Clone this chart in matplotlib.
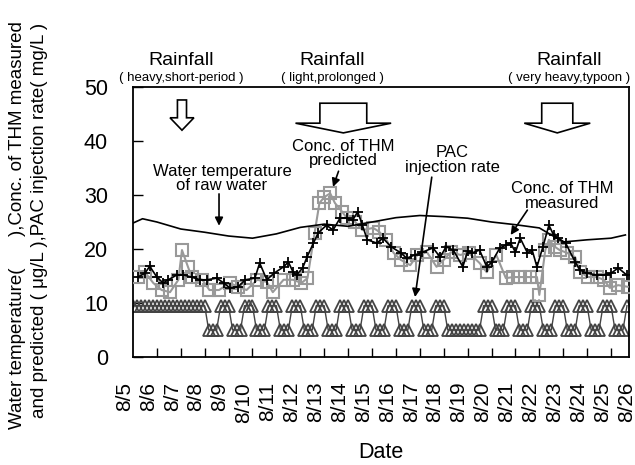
import matplotlib
matplotlib.use("Agg")
import matplotlib.pyplot as plt
from matplotlib.patches import Polygon
import numpy as np

plt.rcParams["font.family"] = ["Liberation Sans", "DejaVu Sans"]

# ---------- data (day 0 = 8/5 00:00) ----------
date_labels = ["8/5", "8/6", "8/7", "8/8", "8/9", "8/10", "8/11", "8/12", "8/13", "8/14", "8/15",
               "8/16", "8/17", "8/18", "8/19", "8/20", "8/21", "8/22", "8/23", "8/24", "8/25", "8/26"]

temp_day = [0, 0.4, 1, 2, 3, 4, 5, 6, 7, 8, 9, 10, 11, 12, 13, 14, 15, 16, 17, 18, 19, 20, 20.6]
temp_val = [24.8, 25.6, 25.0, 23.7, 23.1, 22.4, 22.0, 22.8, 24.0, 24.6, 24.2, 25.0, 25.8, 26.2,
            26.0, 25.7, 25.0, 24.5, 23.9, 21.3, 21.7, 22.0, 22.6]

meas_day = [0.2, 0.5, 0.7, 1.0, 1.26, 1.48, 1.84, 2.1, 2.46, 2.8, 3.1, 3.5, 3.8, 4.05, 4.4, 4.7,
            5.1, 5.3, 5.6, 5.9, 6.3, 6.5, 6.7, 6.85, 7.1, 7.28, 7.55, 7.75, 8.1, 8.37, 8.66, 8.95,
            9.2, 9.4, 9.6, 9.8, 10.2, 10.46, 10.8, 11.2, 11.45, 11.8, 12.1, 12.55, 12.85, 13.1,
            13.4, 13.8, 14.0, 14.2, 14.5, 14.8, 15.0, 15.35, 15.6, 15.8, 16.0, 16.2, 16.5, 16.7,
            16.9, 17.15, 17.4, 17.6, 17.8, 18.1, 18.5, 18.7, 19.0, 19.4, 19.8, 20.0, 20.3, 20.65]
meas_val = [14.8, 15.5, 16.8, 14.8, 13.7, 14.3, 15.2, 15.2, 14.8, 14.3, 14.3, 14.6, 13.7, 12.8,
            13.0, 14.3, 14.6, 17.4, 14.3, 15.5, 16.7, 17.6, 15.7, 15.2, 16.5, 18.5, 21.1, 23.0,
            24.4, 23.5, 25.7, 25.7, 25.4, 26.9, 24.4, 21.7, 21.1, 22.0, 20.4, 19.3, 18.3, 18.9,
            19.4, 20.2, 18.5, 20.4, 19.8, 16.7, 19.6, 19.3, 19.8, 16.7, 17.5, 20.2, 20.7, 21.1,
            19.4, 22.0, 19.3, 19.8, 16.7, 20.4, 24.4, 22.6, 22.0, 21.1, 17.6, 16.1, 15.5, 15.2,
            15.2, 15.5, 16.5, 15.2]

pred_day = [0.2, 0.5, 0.85, 1.2, 1.55, 1.9, 2.05, 2.3, 2.46, 2.9, 3.2, 3.6, 4.05, 4.4, 4.75, 5.2,
            5.6, 5.85, 6.3, 6.7, 7.05, 7.3, 7.6, 7.8, 8.0, 8.25, 8.45, 8.75, 8.95, 9.3, 9.6, 10.05,
            10.3, 10.6, 10.9, 11.2, 11.6, 11.9, 12.3, 12.7, 13.0, 13.3, 13.7, 14.05, 14.5, 14.8,
            15.2, 15.6, 15.9, 16.2, 16.6, 16.9, 17.0, 17.25, 17.4, 17.65, 17.85, 18.15, 18.5, 18.7,
            19.05, 19.4, 19.7, 19.95, 20.3, 20.7]
pred_val = [14.8, 15.7, 13.7, 12.4, 12.0, 14.3, 19.8, 16.7, 14.8, 14.3, 12.4, 12.4, 13.7, 13.0,
            12.4, 14.3, 13.9, 12.0, 14.3, 14.3, 13.7, 14.6, 23.0, 28.5, 29.6, 30.3, 28.5, 26.9,
            25.7, 25.0, 23.5, 23.9, 23.2, 21.7, 19.3, 18.0, 17.0, 18.9, 19.4, 16.7, 18.0, 19.4,
            18.9, 19.3, 17.4, 15.7, 18.9, 14.6, 14.8, 14.8, 14.8, 14.8, 11.5, 19.8, 21.7, 20.4,
            19.8, 19.3, 18.5, 15.7, 14.8, 14.8, 14.3, 12.8, 13.3, 13.0]

# PAC injection rate, every 4 h, one row per day
pac_by_day = [
    [9.5, 9.5, 9.5, 9.5, 9.5, 9.5],  # 8/5
    [9.5, 9.5, 9.5, 9.5, 9.5, 9.5],  # 8/6
    [9.5, 9.5, 9.5, 9.5, 9.5, 9.5],  # 8/7
    [9.5, 5, 5, 5, 9.5, 9.5],        # 8/8
    [9.5, 5, 5, 5, 9.5, 9.5],        # 8/9
    [9.5, 5, 5, 5, 9.5, 9.5],        # 8/10
    [9.5, 5, 5, 5, 9.5, 9.5],        # 8/11
    [9.5, 5, 5, 5, 9.5, 9.5],        # 8/12
    [9.5, 5, 5, 5, 9.5, 9.5],        # 8/13
    [9.5, 5, 5, 5, 9.5, 9.5],        # 8/14
    [9.5, 5, 5, 5, 9.5, 9.5],        # 8/15
    [9.5, 5, 5, 5, 9.5, 9.5],        # 8/16
    [9.5, 5, 5, 5, 9.5, 9.5],        # 8/17
    [9.5, 5, 5, 5, 5, 5],            # 8/18
    [5, 5, 5, 5, 9.5, 9.5],          # 8/19
    [9.5, 5, 5, 5, 9.5, 9.5],        # 8/20
    [9.5, 5, 5, 5, 9.5, 9.5],        # 8/21
    [9.5, 5, 5, 5, 9.5, 9.5],        # 8/22
    [9.5, 5, 5, 5, 9.5, 9.5],        # 8/23
    [9.5, 5, 5, 5, 9.5, 9.5],        # 8/24
    [9.5, 5, 5, 5, 9.5],             # 8/25
]
pac_val = [v for day in pac_by_day for v in day]
pac_day = np.arange(len(pac_val)) / 6.0

# ---------- figure ----------
fig = plt.figure(figsize=(6.35, 4.65), dpi=100)
ax = fig.add_axes([0.2094, 0.2323, 0.7811, 0.5806])

ax.plot(pac_day, pac_val, color="#444444", lw=1.0, marker="^", ms=8.5, mfc="none",
        mec="#444444", mew=1.3, zorder=2)
ax.plot(pred_day, pred_val, color="#999999", lw=1.5, marker="s", ms=9, mfc="none",
        mec="#999999", mew=1.5, zorder=3)
ax.plot(meas_day, meas_val, color="black", lw=1.2, marker="+", ms=6.5, mew=1.3, zorder=4)
ax.plot(temp_day, temp_val, color="black", lw=1.2, zorder=4)

ax.set_xlim(0, 20.75)
ax.set_ylim(0, 50)
ax.set_yticks([0, 10, 20, 30, 40, 50])
ax.set_xticks(range(1, 21))
ax.set_xticklabels([])
ax.tick_params(axis="x", direction="in", length=6.5, width=1.0)
ax.tick_params(axis="y", direction="in", length=7, width=1.0, pad=18, labelsize=15.5)
for s in ax.spines.values():
    s.set_linewidth(1.3)

for i, lab in enumerate(date_labels):
    ax.text(i - 0.36, -0.092, lab, transform=ax.get_xaxis_transform(), rotation=90,
            ha="center", va="top", fontsize=15, clip_on=False)

fig.text(381 / 635, 1 - 452 / 465, "Date", ha="center", va="center", fontsize=15.5)
fig.text(18 / 635, 1 - 225 / 465, "Water temperature(      ),Conc. of THM measured",
         rotation=90, ha="center", va="center", fontsize=13.5)
fig.text(40 / 635, 1 - 220 / 465, "and predicted ( μg/L ),PAC injection rate( mg/L )",
         rotation=90, ha="center", va="center", fontsize=13.5)

# rainfall headers
rain = [(2.0, "( heavy,short-period )"), (8.33, "( light,prolonged )"), (18.24, "( very heavy,typoon )")]
for x, sub in rain:
    ax.text(x, 54.0, "Rainfall", ha="center", va="baseline", fontsize=14, clip_on=False)
    ax.text(x, 51.2, sub, ha="center", va="baseline", fontsize=9.5, clip_on=False)


def hollow_arrow(xc, stem_hw, head_hw, y_top, y_base, y_tip):
    pts = [(xc - stem_hw, y_top), (xc + stem_hw, y_top), (xc + stem_hw, y_base),
           (xc + head_hw, y_base), (xc, y_tip), (xc - head_hw, y_base), (xc - stem_hw, y_base)]
    ax.add_patch(Polygon(pts, closed=True, fc="white", ec="black", lw=1.2, zorder=6))


hollow_arrow(2.05, 0.19, 0.5, 47.6, 44.3, 42.0)
hollow_arrow(8.8, 0.98, 2.0, 47.0, 43.3, 41.5)
hollow_arrow(17.75, 0.65, 1.38, 47.0, 43.3, 41.5)

# in-plot labels
arrow_kw = dict(arrowstyle="-|>", color="black", lw=1.2, mutation_scale=12, shrinkA=0, shrinkB=0)
notes = [
    ("Water temperature\nof raw water", (3.72, 33.0), (3.6, 30.2), (3.6, 24.3)),
    ("Conc. of THM\npredicted", (8.8, 37.7), (8.6, 34.4), (8.37, 31.5)),
    ("PAC\ninjection rate", (13.35, 36.5), (12.5, 33.3), (11.8, 11.1)),
    ("Conc. of THM\nmeasured", (17.95, 29.8), (16.5, 27.2), (15.8, 22.6)),
]
for txt, pos, start, tip in notes:
    ax.text(pos[0], pos[1], txt, ha="center", va="center", fontsize=12, linespacing=0.95, zorder=7)
    ax.annotate("", xy=tip, xytext=start, arrowprops=arrow_kw, zorder=7)

fig.savefig("out.png", dpi=100)
